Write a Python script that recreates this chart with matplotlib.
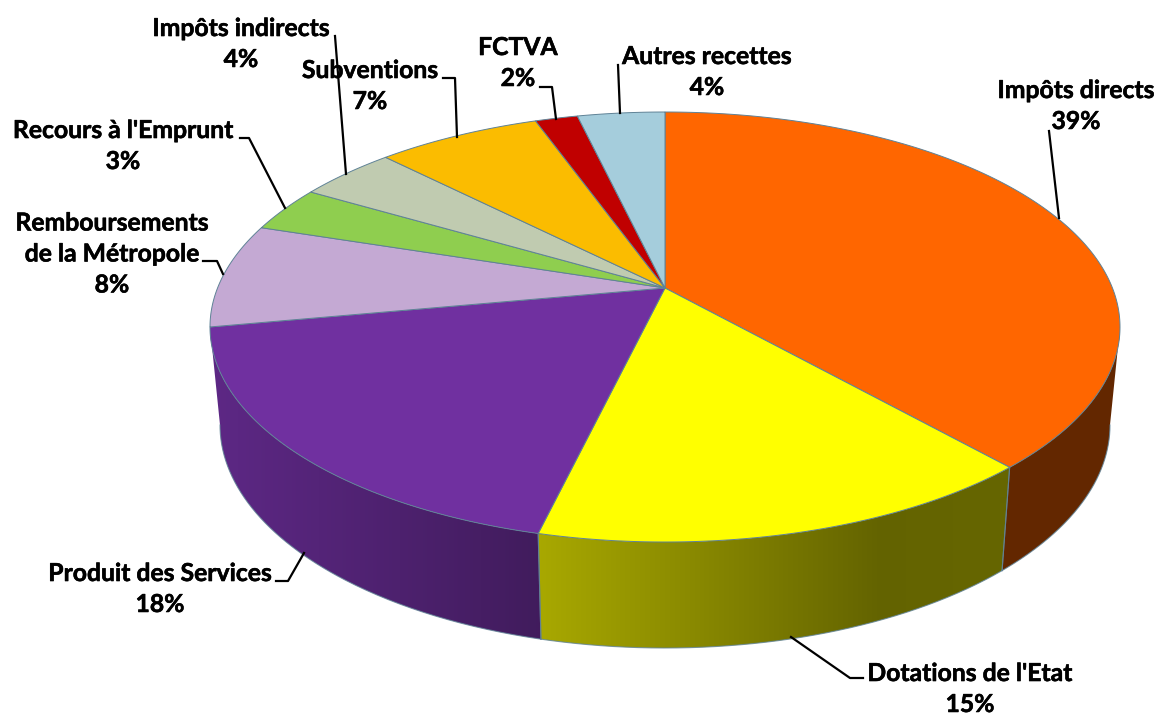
import numpy as np
import matplotlib
matplotlib.use("Agg")
import matplotlib.pyplot as plt
import matplotlib.patheffects as pe
from matplotlib.patches import Polygon

categories = ["Impôts directs", "Dotations de l'Etat", "Produit des Services",
              "Remboursements\nde la Métropole", "Recours à l'Emprunt",
              "Impôts indirects", "Subventions", "FCTVA", "Autres recettes"]
percent_labels = [39, 15, 18, 8, 3, 4, 7, 2, 4]
# slice sizes
shares = [38.4, 15.35, 18.35, 7.85, 3.45, 4.15, 6.95, 1.8, 3.7]
colors = ["#FF6600", "#FFFF00", "#7030A0", "#C4A9D3", "#8FCE4F",
          "#C0CBB0", "#FBBC00", "#C00000", "#A5CDDC"]
label_xy = [(1076, 106), (970, 689), (160, 589), (112, 254), (123, 146),
            (241, 44), (370, 86), (518, 63), (707, 72)]
leaders = [[(1049, 131), (1059, 218)],
           [(863, 678), (850, 678), (791, 637)],
           [(276, 581), (288, 581), (304, 553)],
           [(203, 261), (217, 261), (223, 274)],
           [(240, 138), (249, 138), (285, 208)],
           [(335, 36), (346, 174)],
           [(443, 78), (455, 78), (457, 137)],
           [(540, 87), (552, 87), (556, 119)],
           [(618, 65), (620, 113)]]
# wall shading per slice: (x, factor) stops
wall_shade = {0: ([1000, 1120], [.39, .39]),
              1: ([540, 880, 1000], [.66, .39, .40]),
              2: ([215, 540], [.83, .58])}

CX, CY, RX, RY = 665, 327, 455, 215        # top ellipse
APEX_Y = 288                               # perspective image of the pie centre
BCY, BRX, BRY = 425, 445, 223              # bottom ellipse
EDGE = "#5F8296"

d = (CY - APEX_Y) / RY
k = np.sqrt((1 - d) / (1 + d))


def warp(t):
    """pie angle (rad, clockwise from top) -> ellipse parameter under perspective"""
    return 2 * np.arctan2(k * np.sin(t / 2), np.cos(t / 2)) % (2 * np.pi)


def top(u):
    return CX + RX * np.sin(u), CY - RY * np.cos(u)


def bottom(u):
    return CX + BRX * np.sin(u), BCY - BRY * np.cos(u)


fig = plt.figure(figsize=(11.58, 7.17), dpi=100)
ax = fig.add_axes([0, 0, 1, 1])

cum = np.cumsum([0] + shares) / sum(shares) * 2 * np.pi
bounds = [warp(a) if a < 2 * np.pi - 1e-9 else 2 * np.pi for a in cum]

# outer walls (front half only), gradient image clipped to the wall outline
for i in wall_shade:
    a, b = bounds[i], bounds[i + 1]
    a2, b2 = max(a, np.pi / 2), min(b, 3 * np.pi / 2)
    if i == 2:
        b2 = 3 * np.pi / 2
    base = np.array(matplotlib.colors.to_rgb(colors[i]))
    us = np.linspace(a2, b2, 160)
    tx, ty = top(us)
    bx, by = bottom(us)
    outline = np.vstack([np.column_stack([tx, ty]),
                         np.column_stack([bx, by])[::-1]])
    sx, sf = wall_shade[i]
    xs = np.arange(0, 1158)
    grad = np.interp(xs + .5, sx, sf)[None, :, None] * base[None, None, :]
    im = ax.imshow(grad, extent=(0, 1158, 717, 0), aspect="auto",
                   interpolation="bilinear", zorder=2)
    clip = Polygon(outline, closed=True, transform=ax.transData, fc="none", ec="none")
    ax.add_patch(clip)
    im.set_clip_path(clip)
    ax.plot(bx, by, color=EDGE, lw=0.8, alpha=.8, zorder=3)
    for u in (a, b):
        if np.pi / 2 < u < 3 * np.pi / 2 - 0.02:
            p, q = top(u), bottom(u)
            ax.plot([p[0], q[0]], [p[1], q[1]], color=EDGE, lw=0.8, alpha=.8, zorder=3)

# top face
for i in range(len(shares)):
    us = np.linspace(bounds[i], bounds[i + 1], 200)
    x, y = top(us)
    pts = np.vstack([[CX, APEX_Y], np.column_stack([x, y])])
    ax.add_patch(Polygon(pts, closed=True, fc=colors[i], ec=EDGE, lw=0.7, zorder=4))

# labels and leader lines
for name, pct, (x, y), seg in zip(categories, percent_labels, label_xy, leaders):
    ax.text(x, y, f"{name}\n{pct}%", ha="center", va="center", ma="center",
            family="Lato", weight="bold", fontsize=17.8, color="black",
            linespacing=1.42, zorder=6,
            path_effects=[pe.withStroke(linewidth=0.4, foreground="black")])
    sx_, sy_ = zip(*seg)
    ax.plot(sx_, sy_, color="black", lw=1.6, zorder=5, solid_joinstyle="round")

ax.set_xlim(0, 1158)
ax.set_ylim(717, 0)
ax.axis("off")
fig.savefig("out.png", dpi=100, facecolor="white")
